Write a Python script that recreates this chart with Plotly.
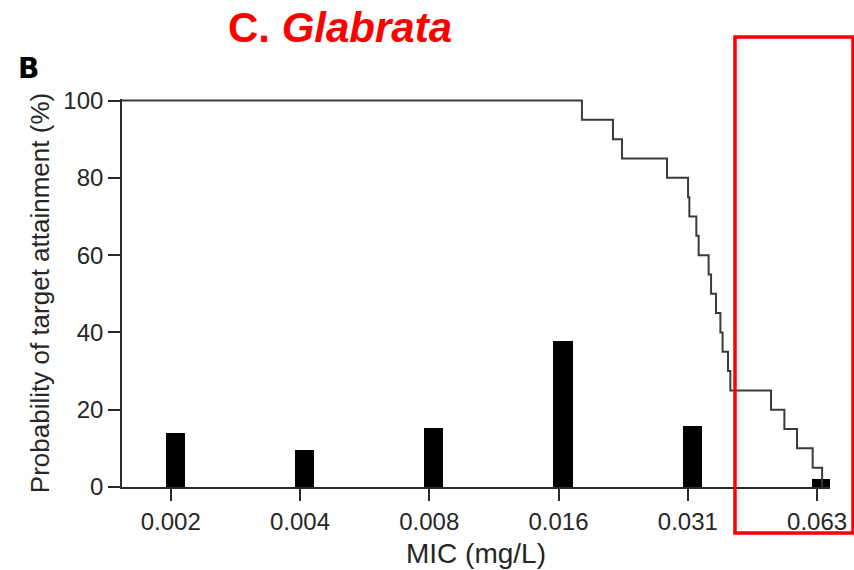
import plotly.graph_objects as go

# ---- data ----
mic_labels = ["0.002", "0.004", "0.008", "0.016", "0.031", "0.063"]
mic_pos = [0, 1, 2, 3, 4, 5]
mic_freq = [14.0, 9.6, 15.2, 37.9, 15.8, 2.0]          # % of isolates (bars)

# probability of target attainment step curve (x in MIC-category units)
pta_x = [-0.377, 3.181, 3.421, 3.491, 3.839, 4.002, 4.012, 4.066, 4.084,
         4.161, 4.180, 4.218, 4.252, 4.269, 4.311, 4.329, 4.644, 4.747,
         4.845, 4.966, 5.039]
pta_y = [100, 95, 90, 85, 80, 75, 70, 65, 60, 55, 50, 45, 40, 35, 30, 25,
         20, 15, 10, 5, 0]

y_ticks = [0, 20, 40, 60, 80, 100]

FONT = "Liberation Sans, Arial, Helvetica, sans-serif"
AX = "#2a2a2a"
TXT = "#262626"

fig = go.Figure()
fig.add_trace(go.Scatter(x=pta_x, y=pta_y, mode="lines",
                         line=dict(shape="hv", color="#3a3a3a", width=2),
                         showlegend=False, hoverinfo="skip"))
fig.add_trace(go.Bar(x=mic_pos, y=mic_freq, width=0.15, offset=-0.04,
                     marker=dict(color="black", line=dict(width=0)),
                     showlegend=False))

fig.update_layout(
    width=854, height=570,
    margin=dict(l=122, r=24, t=99, b=83, autoexpand=False),
    paper_bgcolor="white", plot_bgcolor="white",
    font=dict(family=FONT, color=TXT),
    xaxis=dict(range=[-0.377, 5.1], tickvals=mic_pos, ticktext=mic_labels,
               showline=True, linecolor=AX, linewidth=1.6,
               ticks="outside", ticklen=12, tickwidth=1.6, tickcolor=AX,
               showgrid=False, zeroline=False, ticklabelstandoff=0,
               tickfont=dict(size=24, family=FONT, color=TXT),
               title=dict(text="MIC (mg/L)", font=dict(size=28, family=FONT, color=TXT),
                          standoff=10)),
    yaxis=dict(range=[0, 100.4], tickvals=y_ticks,
               showline=True, linecolor=AX, linewidth=1.6,
               ticks="outside", ticklen=12, tickwidth=1.6, tickcolor=AX,
               showgrid=False, zeroline=False,
               tickfont=dict(size=24, family=FONT, color=TXT),
               title=dict(text="Probability of target attainment (%)",
                          font=dict(size=26, family=FONT, color=TXT),
                          standoff=6)),
    bargap=0,
)

fig.add_annotation(text="<b>C. <i>Glabrata</i></b>", xref="paper", yref="paper",
                   x=0.3079, y=1.183, xanchor="center", yanchor="middle",
                   showarrow=False, font=dict(size=42, family=FONT, color="#ff0000"))
fig.add_annotation(text="<b>B</b>", xref="paper", yref="paper",
                   x=-0.1497, y=1.0786, xanchor="left", yanchor="middle",
                   showarrow=False,
                   font=dict(size=28, family="DejaVu Sans, Arial, sans-serif", color="black"))

fig.add_shape(type="rect", xref="paper", yref="paper",
              x0=0.8658, x1=1.0325, y0=-0.1186, y1=1.1598,
              line=dict(color="#ff0000", width=3.5), fillcolor="rgba(0,0,0,0)")

fig.write_html("out.html")
